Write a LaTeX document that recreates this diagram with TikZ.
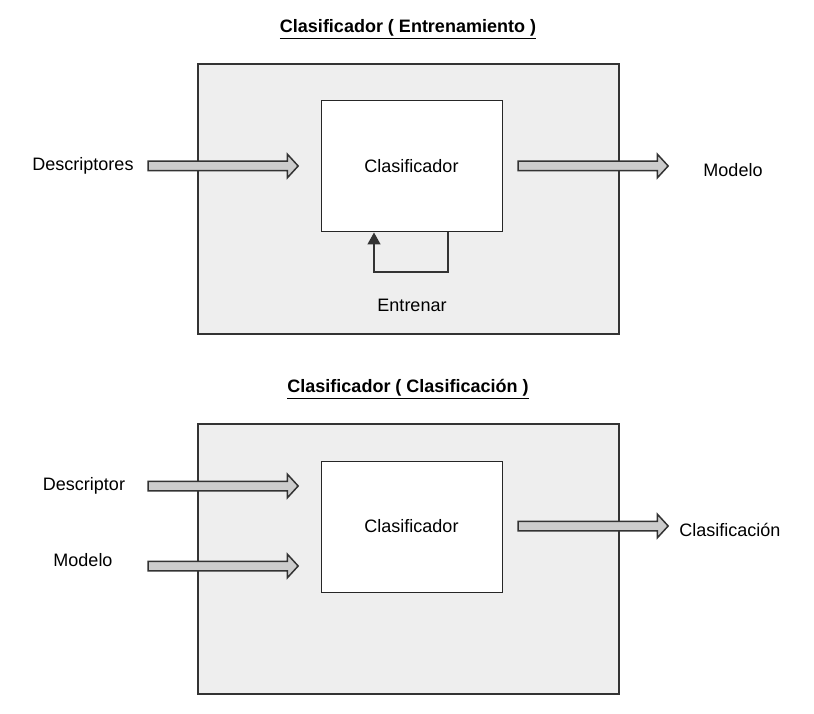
\documentclass[tikz,border=0pt]{standalone}
\usepackage{fontspec}
\setmainfont{Liberation Sans}
\usepackage{tikz}
\usetikzlibrary{shapes.arrows, arrows.meta}

\definecolor{boxgray}{HTML}{EEEEEE}
\definecolor{arrgray}{HTML}{CCCCCC}
\definecolor{linegray}{HTML}{333333}

\begin{document}
\begin{tikzpicture}[x=1pt, y=-1pt,
        font=\fontsize{18}{21}\selectfont,
        outer/.style = {draw=linegray, line width=1.5pt, fill=boxgray, minimum width=421pt, minimum height=270pt, inner sep=0},
        inner/.style = {draw=black!85, line width=1pt, fill=white, minimum width=181pt, minimum height=131pt},
        blockarrow/.style = {single arrow, draw=linegray, line width=1.5pt, fill=arrgray, inner sep=0, inner ysep=4pt,
            minimum height=150pt, single arrow head extend=7pt, single arrow tip angle=95},
        title/.style = {font=\fontsize{18}{21}\selectfont\bfseries}]
                \useasboundingbox (0,0) rectangle (814,714);

                % entrenamiento
                \node[title] at (408,29) (title1) {\underline{Clasificador ( Entrenamiento )}};
                \node[outer] at (408.5,199) (box1) {};
                \node[inner] at (411.5,166.5) (clf1) {Clasificador};
                \node[blockarrow] at (221,166) (in1) {};
                \node[blockarrow] at (591,166) (out1) {};
                \node at (83,166) (desc1) {Descriptores};
                \node at (733,170) (mod1) {Modelo};
                \node at (412,305) (train) {Entrenar};

                \coordinate (loopa) at (448,272);
                \coordinate (loopb) at (374,272);
                \draw[draw=linegray, line width=1.5pt, -{Triangle[width=13pt, length=12pt]}]
                    (clf1.south -| loopa) -- (loopa) -- (loopb) -- (clf1.south -| loopb);

                % clasificacion
                \node[title] at (408,389) (title2) {\underline{Clasificador ( Clasificación )}};
                \node[outer] at (408.5,559) (box2) {};
                \node[inner] at (411.5,526.5) (clf2) {Clasificador};
                \node[blockarrow] at (221,486) (in2) {};
                \node[blockarrow] at (221,566) (in3) {};
                \node[blockarrow] at (591,526) (out2) {};
                \node at (84,486) (desc2) {Descriptor};
                \node at (83,560) (mod2) {Modelo};
                \node at (730,530) (res) {Clasificación};
            \end{tikzpicture}
\end{document}
